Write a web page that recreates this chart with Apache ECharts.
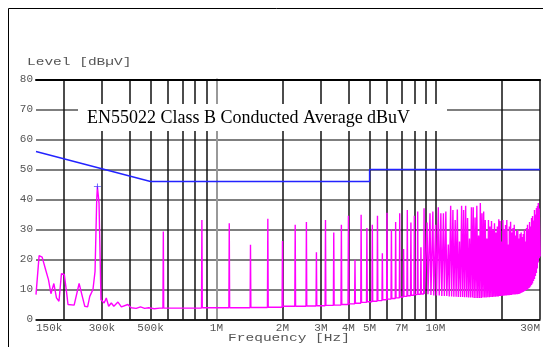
<!DOCTYPE html>
<html>
<head>
<meta charset="utf-8">
<script src="https://cdn.jsdelivr.net/npm/echarts@6/dist/echarts.min.js"></script>
<style>
html,body{margin:0;padding:0;background:#fff;}
#chart{width:543px;height:347px;}
</style>
</head>
<body>
<div id="chart"></div>
<script>
// ---- data (frequency in MHz, level in dBµV) ----
const lowFreqMHz = [0.150,0.155,0.160,0.166,0.171,0.1755,0.181,0.186,0.191,0.196,0.202,0.207,0.210,0.224,0.236,0.245,0.2505,0.258,0.264,0.269,0.273,0.279,0.284,0.286,0.291,0.297,0.300,0.307,0.314,0.322,0.331,0.340,0.355,0.368,0.394,0.408,0.43,0.45,0.47,0.49,0.52,0.55];
const lowLevel   = [8.3,21.3,20.8,16.6,13.3,8.6,12.0,7.2,6.1,15.3,15.0,8.9,5.0,4.8,12.0,7.2,4.4,4.2,7.7,7.2,10.0,16.0,39.9,44.3,38.8,6.6,7.2,5.5,7.2,4.4,5.5,4.4,5.8,4.2,5.0,3.9,3.7,4.2,3.7,3.9,3.6,3.8];

const harmFreqMHz = [0.572,0.858,1.144,1.430,1.716,2.002,2.288,2.574,2.860,3.146,3.432,3.718,4.004,4.290,4.576,4.862,5.148,5.434,5.720,6.006,6.292,6.578,6.864,7.150,7.436,7.722,8.008,8.294,8.580,8.866,9.152,9.438,9.724,10.01,10.30,10.58,10.87,11.15,11.44,11.73,12.01,12.30,12.58,12.87,13.16,13.44,13.73,14.01,14.30,14.59,14.87,15.16,15.44,15.73,16.02,16.30,16.59,16.87,17.16,17.45,17.73,18.02,18.30,18.59,18.88,19.16,19.45,19.73,20.02,20.31,20.59,20.88,21.16,21.45,21.74,22.02,22.31,22.59,22.88,23.17,23.45,23.74,24.02,24.31,24.60,24.88,25.17,25.45,25.74,26.03,26.31,26.60,26.88,27.17,27.46,27.74,28.03,28.31,28.60,28.89,29.17,29.46,29.74];
const harmPeak = [29.3,33.2,32.1,24.9,33.6,26.2,31.6,32.5,22.4,33.2,29.0,31.6,34.6,19.9,34.9,30.5,31.6,34.6,22.1,35.6,30.1,32.5,35.4,23.5,36.5,32.3,34.6,36.0,24.1,37.1,32.3,35.4,36.0,31.6,37.4,35.4,35.4,36.0,25.0,37.9,36.5,33.2,36.7,26.0,37.9,36.5,37.9,33.8,27.0,37.4,37.4,34.0,37.9,28.0,38.8,35.4,36.0,33.2,27.0,33.2,31.0,32.8,30.0,32.1,29.0,31.0,33.4,32.8,26.0,33.2,30.0,31.5,33.2,25.0,31.0,32.6,29.0,30.5,31.6,28.0,29.5,29.9,27.0,28.5,29.0,27.5,28.5,29.9,26.0,30.5,31.6,30.0,32.5,31.0,33.8,34.5,33.0,36.5,35.0,37.2,37.8,38.8,37.0];
const harmFloor = [3.8,3.9,3.9,4.0,4.1,4.4,4.4,4.5,4.6,4.7,4.8,5.0,5.2,5.4,5.7,5.9,6.1,6.3,6.6,6.8,7.0,7.2,7.5,7.7,7.9,8.1,8.3,8.4,8.5,8.5,8.4,8.2,8.0,8.0,8.0,7.8,7.8,7.8,7.7,7.7,7.6,7.6,7.5,7.5,7.5,7.4,7.4,7.3,7.3,7.3,7.2,7.2,7.2,7.2,7.2,7.3,7.3,7.3,7.4,7.4,7.5,7.5,7.6,7.6,7.7,7.7,7.8,7.8,7.9,7.9,8.0,8.0,8.1,8.1,8.2,8.2,8.3,8.3,8.3,8.4,8.4,8.5,8.6,8.8,9.0,9.2,9.4,9.6,9.8,10.0,10.3,10.6,11.0,11.5,12.0,12.8,13.5,14.5,15.5,17.0,19.0,20.5,21.0];
const tailFreqMHz = [30.0];
const tailLevel = [22.0];

const limitFreqMHz = [0.15, 0.5, 5, 5, 30];
const limitLevel   = [56, 46, 46, 50, 50];

const peakFreqMHz = [0.286];
const peakLevel = [44.3];

const gridFreqMHz = [0.2,0.3,0.4,0.5,0.6,0.7,0.8,0.9,1,2,3,4,5,6,7,8,9,10,20,30];
const xLabelFreqMHz = [0.15,0.3,0.5,1,2,3,4,5,7,10,30];
const xLabelText = ['150k','300k','500k','1M','2M','3M','4M','5M','7M','10M','30M'];

const titleText = 'EN55022 Class B Conducted Average dBuV';
const yName = 'Level [dBµV]';
const xName = 'Frequency [Hz]';

// ---- build ----
const lg = Math.log10;
// relative half-width of each harmonic spike (narrow below 9 MHz, broader skirt above)
const spikeW = f => (f > 9 ? 0.01 : 0.004);
const trace = lowFreqMHz.map((f, i) => [lg(f), lowLevel[i]]);
let prev = lowLevel[lowLevel.length - 1];
harmFreqMHz.forEach((f, i) => {
  const w = spikeW(f);
  trace.push([lg(f * (1 - w)), prev]);
  trace.push([lg(f), harmPeak[i]]);
  trace.push([lg(f * (1 + w)), harmFloor[i]]);
  prev = harmFloor[i];
});
tailFreqMHz.forEach((f, i) => trace.push([lg(f), tailLevel[i]]));

const limit = limitFreqMHz.map((f, i) => [lg(f), limitLevel[i]]);
const peaks = peakFreqMHz.map((f, i) => [lg(f), peakLevel[i]]);

const xMin = lg(0.15), xMax = lg(30);
const labelVals = xLabelFreqMHz.map(lg);
function labelFor(v) {
  let best = 0, bd = Infinity;
  labelVals.forEach((lv, i) => { const d = Math.abs(lv - v); if (d < bd) { bd = d; best = i; } });
  return xLabelText[best];
}

const monoFont = "'Liberation Mono', 'DejaVu Sans Mono', monospace";

const chart = echarts.init(document.getElementById('chart'), null, {renderer: 'canvas'});
chart.setOption({
  animation: false,
  backgroundColor: '#fff',
  grid: {left: 36, right: 1, top: 79.5, bottom: 27.5, containLabel: false},
  xAxis: [{
    type: 'value', min: xMin, max: xMax,
    axisLine: {show: true, onZero: false, lineStyle: {color: '#000', width: 1.5}},
    axisTick: {show: false, customValues: gridFreqMHz.map(lg)},
    splitLine: {show: true, lineStyle: {color: '#111', width: 1.5}},
    axisLabel: {
      customValues: labelVals, formatter: v => labelFor(v),
      color: '#555', fontFamily: monoFont, fontSize: 11, margin: 3,
      alignMinLabel: 'left', alignMaxLabel: 'right', hideOverlap: false
    }
  }, {
    type: 'value', min: xMin, max: xMax, position: 'top',
    axisLine: {show: true, onZero: false, lineStyle: {color: '#000', width: 2}},
    axisTick: {show: false}, axisLabel: {show: false}, splitLine: {show: false}
  }],
  yAxis: [{
    type: 'value', min: 0, max: 80, interval: 10,
    axisLine: {show: true, lineStyle: {color: '#000', width: 1.5}},
    axisTick: {show: false},
    splitLine: {show: true, lineStyle: {color: '#555', width: 1.5}},
    axisLabel: {color: '#555', fontFamily: monoFont, fontSize: 11, margin: 3}
  }, {
    type: 'value', min: 0, max: 80, position: 'right',
    axisLine: {show: true, lineStyle: {color: '#999', width: 2}},
    axisTick: {show: false}, axisLabel: {show: false}, splitLine: {show: false}
  }],
  series: [{
    type: 'line', name: 'Average', data: trace, showSymbol: false, symbol: 'none',
    lineStyle: {color: '#ff00ff', width: 1.4}, z: 3, clip: true
  }, {
    type: 'line', name: 'Limit', data: limit, showSymbol: false, symbol: 'none',
    lineStyle: {color: '#2323ff', width: 1.4}, z: 10, clip: false
  }, {
    type: 'scatter', name: 'Peak', data: peaks,
    symbol: 'path://M0,4.4H10V5.6H0Z M4.4,0H5.6V10H4.4Z', symbolSize: [7, 6],
    itemStyle: {color: '#2323ff'}, z: 11
  }],
  graphic: [{
    type: 'rect', z: 100, silent: true,
    shape: {x: 8.5, y: 8.5, width: 600, height: 400},
    style: {fill: null, stroke: '#000', lineWidth: 1}
  }, {
    type: 'rect', z: 100, silent: true,
    shape: {x: 78, y: 104, width: 369, height: 27},
    style: {fill: '#fff'}
  }, {
    type: 'text', z: 101, silent: true, x: 87, y: 118,
    style: {text: titleText, font: "18px 'Liberation Serif', 'Times New Roman', serif", fill: '#000', textVerticalAlign: 'middle', textAlign: 'left'}
  }, {
    type: 'text', z: 101, silent: true, x: 27, y: 62, scaleX: 1.45,
    style: {text: yName, font: "10px " + monoFont, fill: '#555', textVerticalAlign: 'middle', textAlign: 'left'}
  }, {
    type: 'text', z: 101, silent: true, x: 289, y: 338, scaleX: 1.45,
    style: {text: xName, font: "10px " + monoFont, fill: '#555', textVerticalAlign: 'middle', textAlign: 'center'}
  }]
});
</script>
</body>
</html>
